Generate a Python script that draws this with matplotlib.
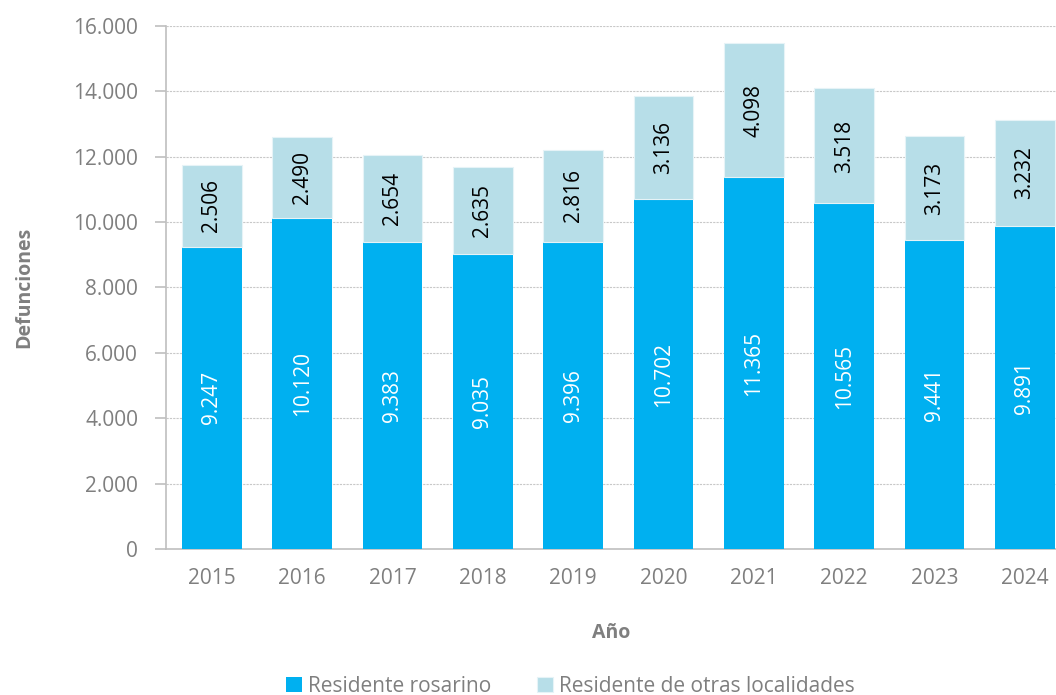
import matplotlib.pyplot as plt
from matplotlib.ticker import FuncFormatter
import numpy as np

plt.rcParams['font.family'] = ['Open Sans', 'DejaVu Sans']

anios = ['2015', '2016', '2017', '2018', '2019', '2020', '2021', '2022', '2023', '2024']
rosarino = [9247, 10120, 9383, 9035, 9396, 10702, 11365, 10565, 9441, 9891]
otras = [2506, 2490, 2654, 2635, 2816, 3136, 4098, 3518, 3173, 3232]

c_ros = '#00B0F0'
c_otr = '#B7DEE8'
gris = '#7F7F7F'


def miles(v):
    return f'{int(v):,}'.replace(',', '.')


fig = plt.figure(figsize=(10.56, 6.95), dpi=100)
ax = fig.add_axes([0.157, 0.210, 0.843, 0.753])

x = np.arange(len(anios))
w = 0.66
b1 = ax.bar(x, rosarino, w, color=c_ros, label='Residente rosarino', zorder=3)
b2 = ax.bar(x, otras, w, bottom=rosarino, color=c_otr, edgecolor='#E6F3F7',
            linewidth=0.8, label='Residente de otras localidades', zorder=3)

for i in range(len(anios)):
    ax.text(x[i], rosarino[i] / 2, miles(rosarino[i]), rotation=90, ha='center',
            va='center', color='white', fontsize=15, zorder=4)
    ax.text(x[i], rosarino[i] + otras[i] / 2, miles(otras[i]), rotation=90, ha='center',
            va='center', color='black', fontsize=15, zorder=4)

ax.set_ylim(0, 16000)
ax.set_yticks(range(0, 16001, 2000))
ax.yaxis.set_major_formatter(FuncFormatter(lambda v, p: miles(v)))
ax.set_xlim(-0.51, 9.345)
ax.set_xticks(x)
ax.set_xticklabels(anios)

ax.grid(axis='y', color='#C8C8C8', linestyle=(0, (2, 1)), linewidth=0.8, zorder=0)
for s in ['top', 'right']:
    ax.spines[s].set_visible(False)
for s in ['left', 'bottom']:
    ax.spines[s].set_color('#BFBFBF')
    ax.spines[s].set_linewidth(1.2)
ax.tick_params(axis='y', colors='#BFBFBF', labelcolor=gris, labelsize=15, length=8,
               width=1.2, pad=12)
ax.tick_params(axis='x', length=0, labelcolor=gris, labelsize=15, pad=14)

ax.set_ylabel('Defunciones', fontsize=14, fontweight='bold', color=gris, labelpad=28)
ax.set_xlabel('Año', fontsize=14, fontweight='bold', color=gris, labelpad=24)

leg = fig.legend(handles=[b1, b2], loc='lower center', bbox_to_anchor=(0.54, -0.03),
                 ncol=2, frameon=False, fontsize=15, handlelength=0.75, handleheight=0.75,
                 handletextpad=0.3, columnspacing=2.2, labelcolor=gris)

fig.savefig('out.png', dpi=100)
